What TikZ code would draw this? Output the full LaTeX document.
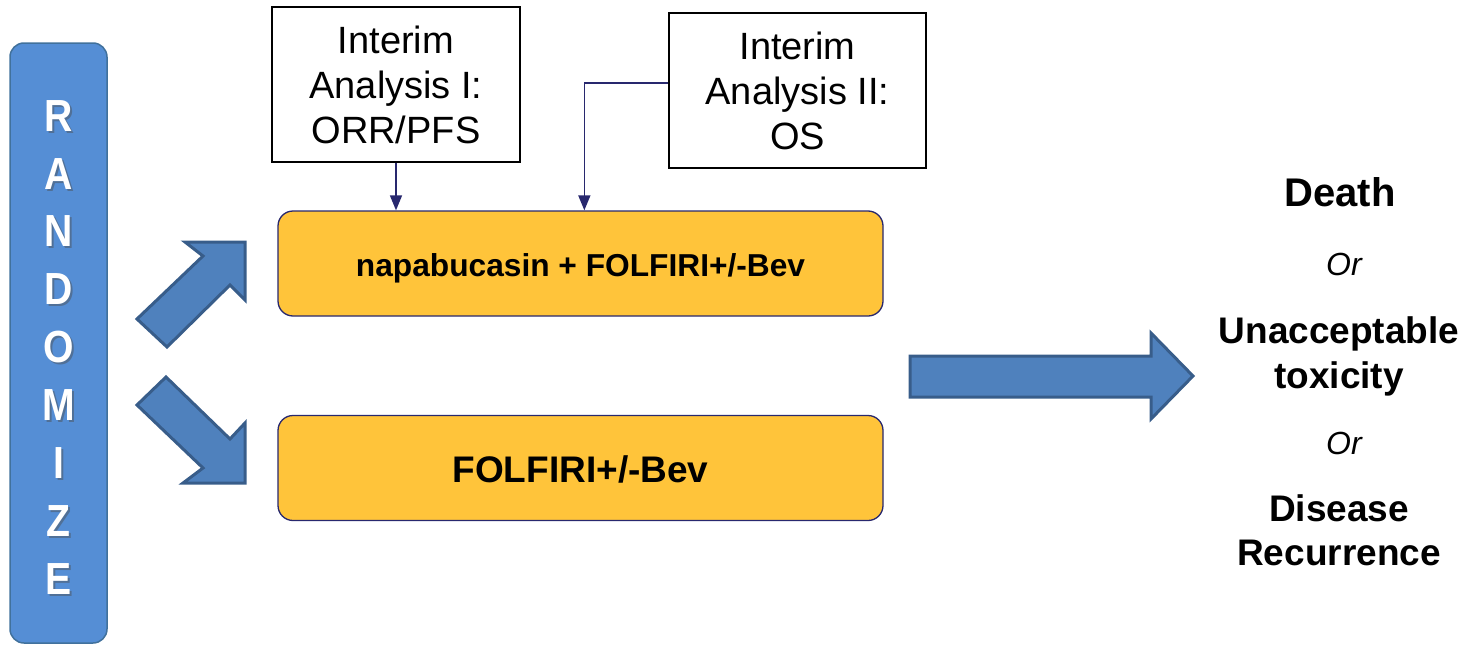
\documentclass[tikz,border=0pt]{standalone}
\usepackage{fontspec}
\setmainfont{Liberation Sans}
\newfontfamily\randfont[FakeStretch=0.87]{Liberation Sans}
\usetikzlibrary{arrows.meta}
\definecolor{randfill}{RGB}{85,142,213}
\definecolor{randline}{RGB}{65,113,156}
\definecolor{arrfill}{RGB}{79,129,189}
\definecolor{arrline}{RGB}{56,93,138}
\definecolor{armfill}{RGB}{255,196,58}
\definecolor{navy}{RGB}{40,40,110}
\begin{document}
\begin{tikzpicture}[x=1pt,y=-1pt,
  interim/.style={draw=black, line width=1.6pt, minimum height=155pt,
    inner sep=0pt, align=center, font=\fontsize{38}{45}\selectfont},
  arm/.style={draw=navy, fill=armfill, line width=1.3pt, rounded corners=15pt,
    minimum width=605pt, minimum height=105pt, inner sep=0pt},
  conn/.style={draw=navy, line width=1.6pt, -{Triangle[width=12pt,length=15pt]}},
  blockarrow/.style={fill=arrfill, draw=arrline, line width=3pt, line join=miter},
  outcome/.style={anchor=base, font=\fontsize{37}{44}\selectfont\bfseries},
  ortext/.style={anchor=base, font=\fontsize{32}{38}\selectfont\itshape},
  letters/.style={align=center, font=\randfont\fontsize{45}{57.9}\selectfont\bfseries, inner sep=0pt}
]
\useasboundingbox (0,0) rectangle (1470,645);

% Randomize column
\node[draw=randline, fill=randfill, line width=1.5pt, rounded corners=14pt,
      minimum width=97pt, minimum height=600pt, inner sep=0pt] (rand) at (58.5,343) {};
\node[letters, text=black!70, opacity=0.45] (randshadow) at (60.5,349.3)
  {R\\A\\N\\D\\O\\M\\I\\Z\\E};
\node[letters, text=white] (randtext) at (58.5,347.3)
  {R\\A\\N\\D\\O\\M\\I\\Z\\E};

% Split arrows
\draw[blockarrow] (137,319) -- (203,256) -- (185,242) -- (245,242) -- (245,300)
  -- (230,285) -- (167,347) -- cycle;
\draw[blockarrow] (166,377) -- (230,439) -- (245,423) -- (245,483) -- (183,483)
  -- (203,468) -- (137,405) -- cycle;

% Interim analysis boxes
\node[interim, minimum width=248pt] (int1) at (396,84.5) {Interim\\Analysis I:\\ORR/PFS};
\node[interim, minimum width=257pt] (int2) at (797.5,90.5) {Interim\\Analysis II:\\OS};

% Treatment arms
\node[arm, font=\fontsize{31.7}{38}\selectfont\bfseries, text height=25pt, text depth=0pt]
  (arm1) at (580.5,263.5) {napabucasin + FOLFIRI+/-Bev};
\node[arm, font=\fontsize{37}{44}\selectfont\bfseries, text height=28pt, text depth=0pt]
  (arm2) at (580.5,468) {FOLFIRI+/-Bev};

% Connectors
\draw[conn] (int1.south) -- (int1.south |- arm1.north);
\coordinate (c2s) at ([yshift=7.5pt]int2.west);
\path (arm1.north west) ++(307,0) coordinate (c2e);
\draw[conn] (c2s) -| (c2e);

% Big right arrow
\draw[blockarrow] (910,356) -- (1151,356) -- (1151,333) -- (1193,376) -- (1151,419)
  -- (1151,397) -- (910,397) -- cycle;

% Outcomes
\node[outcome, font=\fontsize{40}{46}\selectfont\bfseries] (death) at (1340,206) {Death};
\node[ortext] (or1) at (1344,275) {Or};
\node[outcome] (unacc) at (1339,343) {Unacceptable};
\node[outcome] (tox) at (1339,388) {toxicity};
\node[ortext] (or2) at (1344,454) {Or};
\node[outcome] (dis) at (1339,521) {Disease};
\node[outcome] (rec) at (1339,565) {Recurrence};
\end{tikzpicture}
\end{document}
